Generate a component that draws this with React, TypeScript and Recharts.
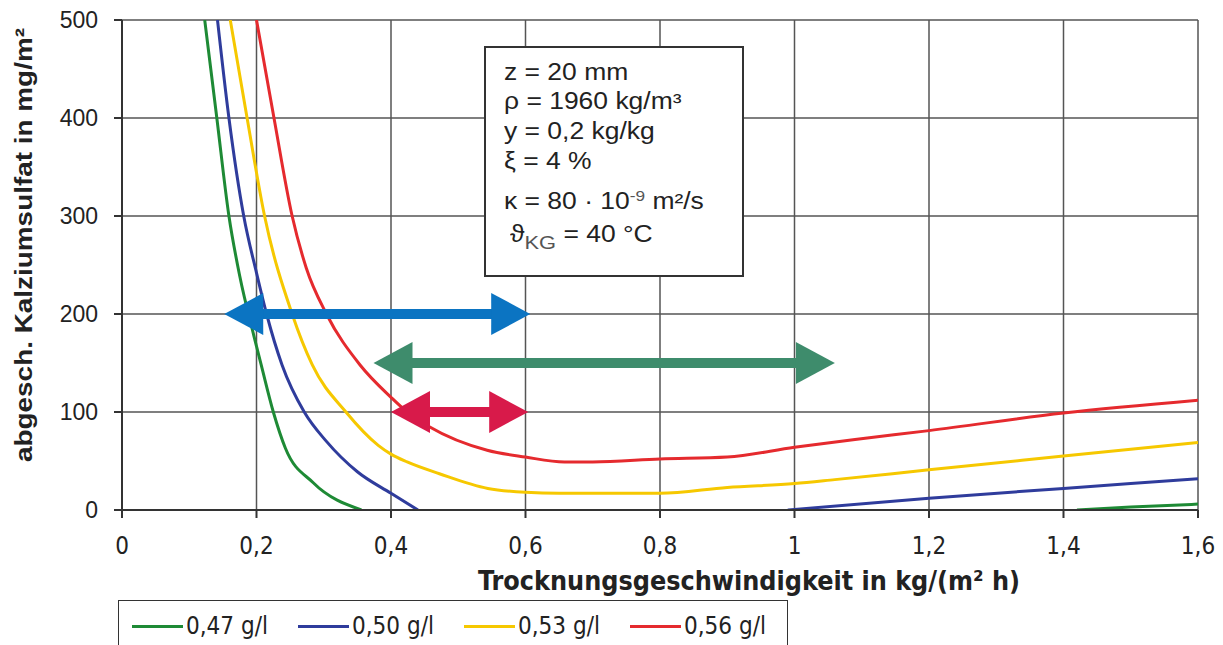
import React from "react";
import { LineChart, Line, XAxis, YAxis, CartesianGrid, ReferenceLine, Legend, Label } from "recharts";

const xTicks = [0, 0.2, 0.4, 0.6, 0.8, 1, 1.2, 1.4, 1.6];
const yTicks = [0, 100, 200, 300, 400, 500];

// [Trocknungsgeschwindigkeit, abgesch. Kalziumsulfat]; null = Kurve liegt unter/auf der Achse
const c047: [number, number | null][] = [
  [0.123, 500], [0.141, 400], [0.159, 300], [0.175, 239], [0.196, 178], [0.207, 148],
  [0.225, 100], [0.243, 63], [0.284, 28], [0.356, 0], [0.9, null],
  [1.42, 0], [1.5, 3], [1.6, 6],
];
const c050: [number, number | null][] = [
  [0.142, 500], [0.159, 400], [0.181, 300], [0.2, 242], [0.215, 200], [0.238, 148],
  [0.271, 100], [0.304, 70], [0.35, 39], [0.4, 17], [0.44, 0], [0.7, null],
  [0.99, 0], [1.2, 12], [1.4, 22], [1.6, 32],
];
const c053: [number, number | null][] = [
  [0.161, 500], [0.186, 400], [0.212, 300], [0.253, 200], [0.283, 148],
  [0.333, 100], [0.381, 66], [0.4, 57], [0.424, 49], [0.472, 37],
  [0.544, 22], [0.6, 18], [0.65, 17], [0.8, 17], [0.9, 23], [1.0, 27], [1.06, 31],
  [1.2, 41], [1.4, 55], [1.6, 69],
];
const c056: [number, number | null][] = [
  [0.2, 500], [0.226, 400], [0.253, 300], [0.274, 247], [0.304, 200], [0.354, 148],
  [0.4, 115], [0.424, 100], [0.457, 85], [0.543, 61], [0.6, 54], [0.658, 49], [0.7, 49],
  [0.8, 52], [0.9, 54], [1.0, 64], [1.09, 72], [1.2, 81], [1.4, 99], [1.6, 112],
];

const series = [
  { name: "0,47 g/l", color: "#1e8a35", points: c047 },
  { name: "0,50 g/l", color: "#2f3c9c", points: c050 },
  { name: "0,53 g/l", color: "#f6c800", points: c053 },
  { name: "0,56 g/l", color: "#e52a2e", points: c056 },
];

// Doppelpfeile: von, bis, Höhe
const arrows = [
  { from: 0.152, to: 0.607, y: 200, color: "#0b74c2" },
  { from: 0.374, to: 1.06, y: 150, color: "#3e8c6c" },
  { from: 0.4, to: 0.604, y: 100, color: "#d81a4a" },
];

const narrow = "'DejaVu Sans Condensed', 'Liberation Sans Narrow', sans-serif";
const sans = "'Liberation Sans', Arial, sans-serif";

function Arrow(props: any) {
  const { x1, y1, x2, fill } = props;
  const head = 39, half = 21, shaft = 5;
  const l = Math.min(x1, x2), r = Math.max(x1, x2), y = y1;
  return (
    <g>
      <rect x={l + head - 1} y={y - shaft} width={r - l - 2 * head + 2} height={shaft * 2} fill={fill} />
      <polygon points={`${l},${y} ${l + head},${y - half} ${l + head},${y + half}`} fill={fill} />
      <polygon points={`${r},${y} ${r - head},${y - half} ${r - head},${y + half}`} fill={fill} />
    </g>
  );
}

const LegendBox = () => (
  <div
    style={{
      marginLeft: 118, width: 670, height: 45, border: "1.5px solid #333", borderBottom: "none",
      boxSizing: "border-box", position: "relative", fontFamily: narrow, fontSize: 24, color: "#222",
    }}
  >
    {series.map((s, i) => (
      <div key={s.name} style={{ position: "absolute", left: 13 + i * 166, top: 11, display: "flex", alignItems: "center", height: 28 }}>
        <span style={{ display: "inline-block", width: 51, height: 3, background: s.color, marginRight: 3 }} />
        <span>{s.name}</span>
      </div>
    ))}
  </div>
);

const infoStyle: React.CSSProperties = {
  position: "absolute", left: 18, height: 30, lineHeight: "30px", whiteSpace: "nowrap",
  transform: "scaleX(1.15)", transformOrigin: "left center",
};

export default function App() {
  return (
    <div style={{ position: "absolute", left: 0, top: 0, width: 1223, height: 645, background: "#fff", fontFamily: sans, overflow: "hidden" }}>
      <LineChart width={1223} height={645} margin={{ top: 20, right: 25, left: 0, bottom: 0 }}>
        <CartesianGrid stroke="#555" strokeWidth={1.5} />
        <XAxis
          dataKey="x"
          type="number"
          domain={[0, 1.6]}
          ticks={xTicks}
          height={90}
          tickSize={8}
          tickMargin={19}
          stroke="#333"
          strokeWidth={2}
          tick={{ fontSize: 24, fill: "#222", fontFamily: narrow }}
          tickFormatter={(v: number) => String(+v.toFixed(1)).replace(".", ",")}
          allowDataOverflow
        >
          <Label
            content={() => (
              <text x={749} y={590} textAnchor="middle" fontFamily={narrow} fontWeight="bold" fontSize={26}
                fill="#222" textLength={542} lengthAdjust="spacingAndGlyphs">
                Trocknungsgeschwindigkeit in kg/(m² h)
              </text>
            )}
          />
        </XAxis>
        <YAxis
          type="number"
          domain={[0, 500]}
          ticks={yTicks}
          width={122}
          tickSize={8}
          tickMargin={16}
          stroke="#333"
          strokeWidth={2}
          tick={{ fontSize: 23, fill: "#222", fontFamily: sans }}
          allowDataOverflow
        >
          <Label
            content={() => (
              <text x={32} y={245} transform="rotate(-90 32 245)" textAnchor="middle" fontFamily={sans} fontWeight="bold"
                fontSize={24} fill="#222" textLength={434} lengthAdjust="spacingAndGlyphs">
                abgesch. Kalziumsulfat in mg/m²
              </text>
            )}
          />
        </YAxis>
        {series.map((s) => (
          <Line
            key={s.name}
            name={s.name}
            data={s.points.map(([x, y]) => ({ x, y }))}
            dataKey="y"
            type="monotone"
            stroke={s.color}
            strokeWidth={3}
            dot={false}
            connectNulls={false}
            isAnimationActive={false}
          />
        ))}
        {arrows.map((a, i) => (
          <ReferenceLine
            key={i}
            segment={[{ x: a.from, y: a.y }, { x: a.to, y: a.y }]}
            shape={(p: any) => <Arrow {...p} fill={a.color} />}
          />
        ))}
        <Legend verticalAlign="bottom" content={() => <LegendBox />} wrapperStyle={{ left: 0, width: 1223 }} />
      </LineChart>
      <div
        style={{
          position: "absolute", left: 484, top: 46, width: 260, height: 231, border: "2px solid #333",
          boxSizing: "border-box", background: "#fff", fontSize: 23, color: "#222",
        }}
      >
        <div style={{ ...infoStyle, top: 9 }}>z = 20 mm</div>
        <div style={{ ...infoStyle, top: 38 }}>ρ = 1960 kg/m³</div>
        <div style={{ ...infoStyle, top: 68 }}>y = 0,2 kg/kg</div>
        <div style={{ ...infoStyle, top: 98 }}>ξ = 4 %</div>
        <div style={{ ...infoStyle, top: 133 }}>
          κ = 80 · 10<sup style={{ fontSize: 15, verticalAlign: 8, color: "#555" }}>-9</sup> m²/s
        </div>
        <div style={{ ...infoStyle, top: 171, left: 24 }}>
          ϑ<sub style={{ fontSize: 19, verticalAlign: -7, color: "#555" }}>KG</sub> = 40 °C
        </div>
      </div>
    </div>
  );
}
